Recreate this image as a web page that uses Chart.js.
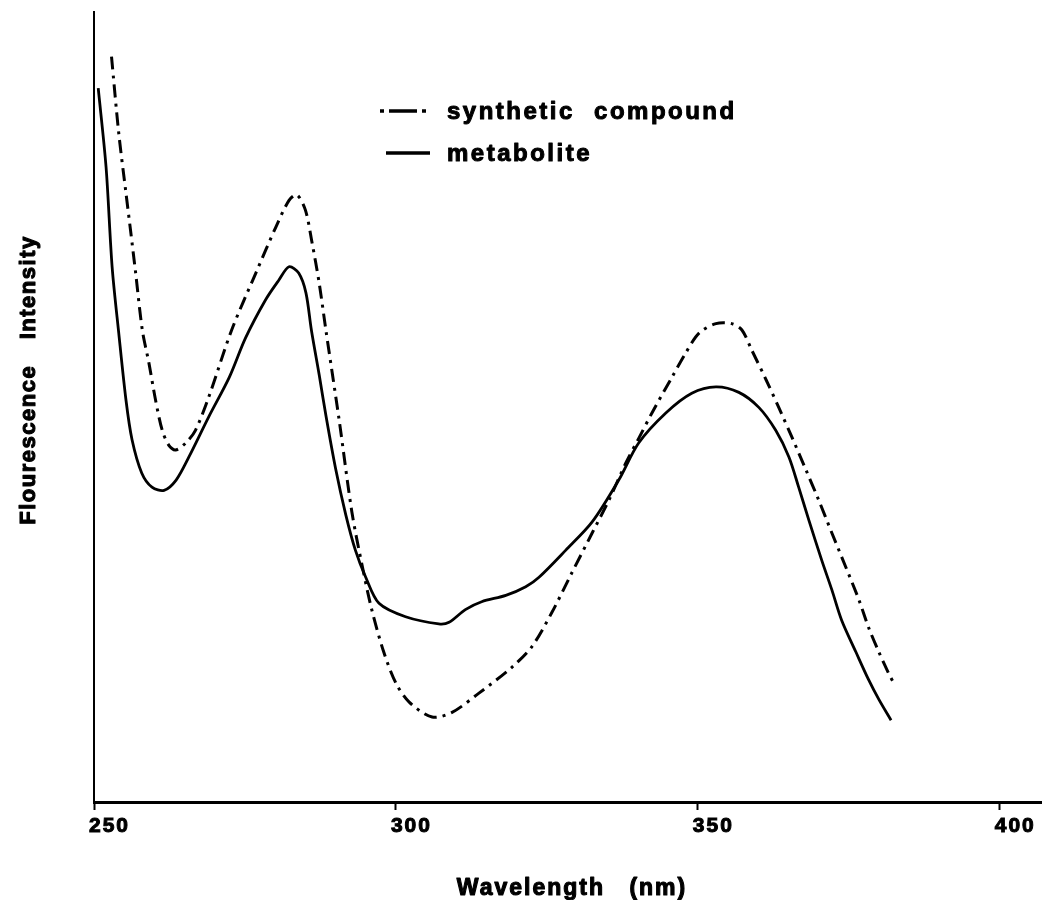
<!DOCTYPE html>
<html>
<head>
<meta charset="utf-8">
<script src="https://cdn.jsdelivr.net/npm/chart.js@4/dist/chart.umd.min.js"></script>
<style>
  body { margin: 0; background: #fff; }
  #spectrum { display: block; }
</style>
</head>
<body>
<canvas id="spectrum" width="1042" height="900"></canvas>
<script>
const wavelengthTicks = [250, 300, 350, 400];

// synthetic compound, dash-dot trace
const synthWavelength = [252.9, 254.1, 255.3, 256.1, 256.9, 258.0, 259.1, 260.2, 261.3, 262.4,
  263.5, 265.2, 266.8, 269.0, 272.8, 276.8, 280.1, 282.3, 283.6, 285.0,
  286.1, 287.3, 288.4, 290.6, 292.7, 294.4, 296.0, 298.0, 300.0, 302.2,
  306.0, 309.3, 313.7, 319.2, 322.5, 325.8, 329.1, 332.5, 335.3, 338.1,
  340.3, 342.4, 345.7, 348.0, 350.2, 353.0, 355.6, 357.3, 358.9, 361.3,
  363.4, 365.6, 367.9, 370.0, 372.2, 374.5, 376.7, 378.3, 380.0, 381.5,
  382.5];
const synthIntensity = [94.1, 84.4, 76.8, 71.8, 66.7, 59.5, 55.3, 50.6, 46.8, 44.9,
  44.3, 45.2, 46.8, 51.0, 59.5, 66.7, 72.5, 75.9, 76.6, 74.7,
  70.6, 65.4, 59.5, 48.1, 36.5, 29.7, 24.1, 18.7, 14.8, 12.4,
  10.5, 11.1, 13.5, 16.8, 19.4, 23.7, 28.7, 33.8, 38.0, 42.7,
  45.9, 49.0, 53.5, 56.6, 59.1, 60.3, 60.3, 59.5, 57.0, 53.2,
  49.7, 45.9, 41.8, 38.0, 33.8, 29.5, 25.3, 21.8, 18.7, 16.2,
  14.7];

// metabolite, solid trace
const metabWavelength = [250.7, 252.0, 253.0, 254.1, 255.3, 256.3, 257.9, 259.6, 261.6, 263.6,
  265.7, 269.0, 272.4, 275.1, 278.4, 280.6, 282.3, 283.9, 285.1, 286.0,
  287.3, 288.4, 290.0, 291.7, 293.3, 295.0, 297.2, 301.6, 307.1, 308.8,
  311.5, 314.2, 318.2, 321.5, 323.7, 328.1, 332.5, 336.9, 340.2, 344.7,
  349.0, 353.0, 356.8, 360.1, 362.9, 365.1, 366.7, 368.4, 370.5, 372.2,
  373.8, 376.2, 378.3, 380.0, 382.0];
const metabIntensity = [90.1, 80.1, 67.5, 59.1, 50.6, 45.6, 41.4, 39.6, 39.2, 40.5,
  43.4, 48.5, 53.5, 58.5, 63.3, 65.8, 67.5, 66.7, 64.2, 59.5,
  53.8, 48.7, 42.0, 36.1, 31.6, 28.2, 24.9, 23.2, 22.3, 22.5,
  24.1, 25.1, 25.9, 27.0, 28.2, 31.6, 35.2, 40.5, 45.2, 49.0,
  51.5, 52.3, 51.6, 49.7, 46.8, 43.4, 39.6, 35.4, 30.4, 26.6,
  22.8, 18.7, 15.2, 12.7, 10.1];

const FONT = '"Liberation Sans", Arial, sans-serif';
const DASH_DOT = [13, 6, 3, 6];

function toPoints(xs, ys) {
  return xs.map((x, i) => ({ x: x, y: ys[i] }));
}

// heavy lettering: outline then fill
function heavyText(ctx, text, x, y, w) {
  ctx.lineWidth = w;
  ctx.lineJoin = 'round';
  ctx.strokeText(text, x, y);
  ctx.fillText(text, x, y);
}

// axis titles and the legend block, drawn on top of the chart
const annotate = {
  id: 'annotate',
  beforeDraw(chart) {
    // spaced-out lettering for the tick labels
    chart.ctx.letterSpacing = '2px';
  },
  afterDraw(chart) {
    const ctx = chart.ctx;
    const ds = chart.data.datasets;
    ctx.save();
    ctx.fillStyle = '#000';
    ctx.strokeStyle = '#000';
    ctx.font = 'bold 23px ' + FONT;
    ctx.letterSpacing = '2px';
    ctx.wordSpacing = '16px';
    ctx.textBaseline = 'alphabetic';
    ctx.textAlign = 'center';
    heavyText(ctx, 'Wavelength (nm)', 572, 895, 1.1);

    ctx.save();
    ctx.translate(35, 380);
    ctx.rotate(-Math.PI / 2);
    ctx.font = 'bold 22px ' + FONT;
    ctx.letterSpacing = '1.5px';
    ctx.wordSpacing = '18px';
    heavyText(ctx, 'Flourescence Intensity', 0, 0, 1.1);
    ctx.restore();

    // legend
    ctx.font = 'bold 24px ' + FONT;
    ctx.letterSpacing = '2.5px';
    ctx.wordSpacing = '10px';
    ctx.textAlign = 'left';
    const rows = [
      { y: 111, dash: [4, 5, 28, 5, 4, 60], x0: 380 },
      { y: 153, dash: [], x0: 386 }
    ];
    rows.forEach((r, i) => {
      ctx.lineWidth = 3.5;
      ctx.setLineDash(r.dash);
      ctx.beginPath();
      ctx.moveTo(r.x0, r.y);
      ctx.lineTo(430, r.y);
      ctx.stroke();
      ctx.setLineDash([]);
      heavyText(ctx, ds[i].label, 447, r.y + 8, 1);
    });
    ctx.restore();
  }
};

const ctx = document.getElementById('spectrum').getContext('2d');
new Chart(ctx, {
  type: 'line',
  data: {
    datasets: [
      {
        label: 'synthetic compound',
        data: toPoints(synthWavelength, synthIntensity),
        borderColor: '#000',
        borderWidth: 3,
        borderDash: DASH_DOT,
        pointRadius: 0,
        tension: 0.3,
        fill: false
      },
      {
        label: 'metabolite',
        data: toPoints(metabWavelength, metabIntensity),
        borderColor: '#000',
        borderWidth: 2.8,
        pointRadius: 0,
        tension: 0.3,
        fill: false
      }
    ]
  },
  options: {
    responsive: false,
    animation: false,
    devicePixelRatio: 1,
    layout: { padding: { left: 94, top: 12, right: 0, bottom: 0 } },
    plugins: {
      legend: { display: false },
      tooltip: { enabled: false }
    },
    scales: {
      x: {
        type: 'linear',
        min: 250,
        max: 407,
        afterBuildTicks: (s) => { s.ticks = wavelengthTicks.map(v => ({ value: v })); },
        afterFit: (s) => { s.height = 98; },
        border: { display: true, color: '#000', width: 3 },
        grid: {
          drawOnChartArea: false,
          drawTicks: true,
          tickLength: 8,
          tickWidth: 2,
          tickColor: '#000'
        },
        ticks: {
          autoSkip: false,
          maxRotation: 0,
          align: 'start',
          labelOffset: -5,
          padding: 4,
          color: '#000',
          textStrokeColor: '#000',
          textStrokeWidth: 1,
          font: { family: FONT, size: 21, weight: 'bold' }
        }
      },
      y: {
        min: -0.25,
        max: 99.75,
        afterFit: (s) => { s.width = 0; },
        border: { display: true, color: '#000', width: 2 },
        grid: { display: false },
        ticks: { display: false }
      }
    }
  },
  plugins: [annotate]
});
</script>
</body>
</html>
